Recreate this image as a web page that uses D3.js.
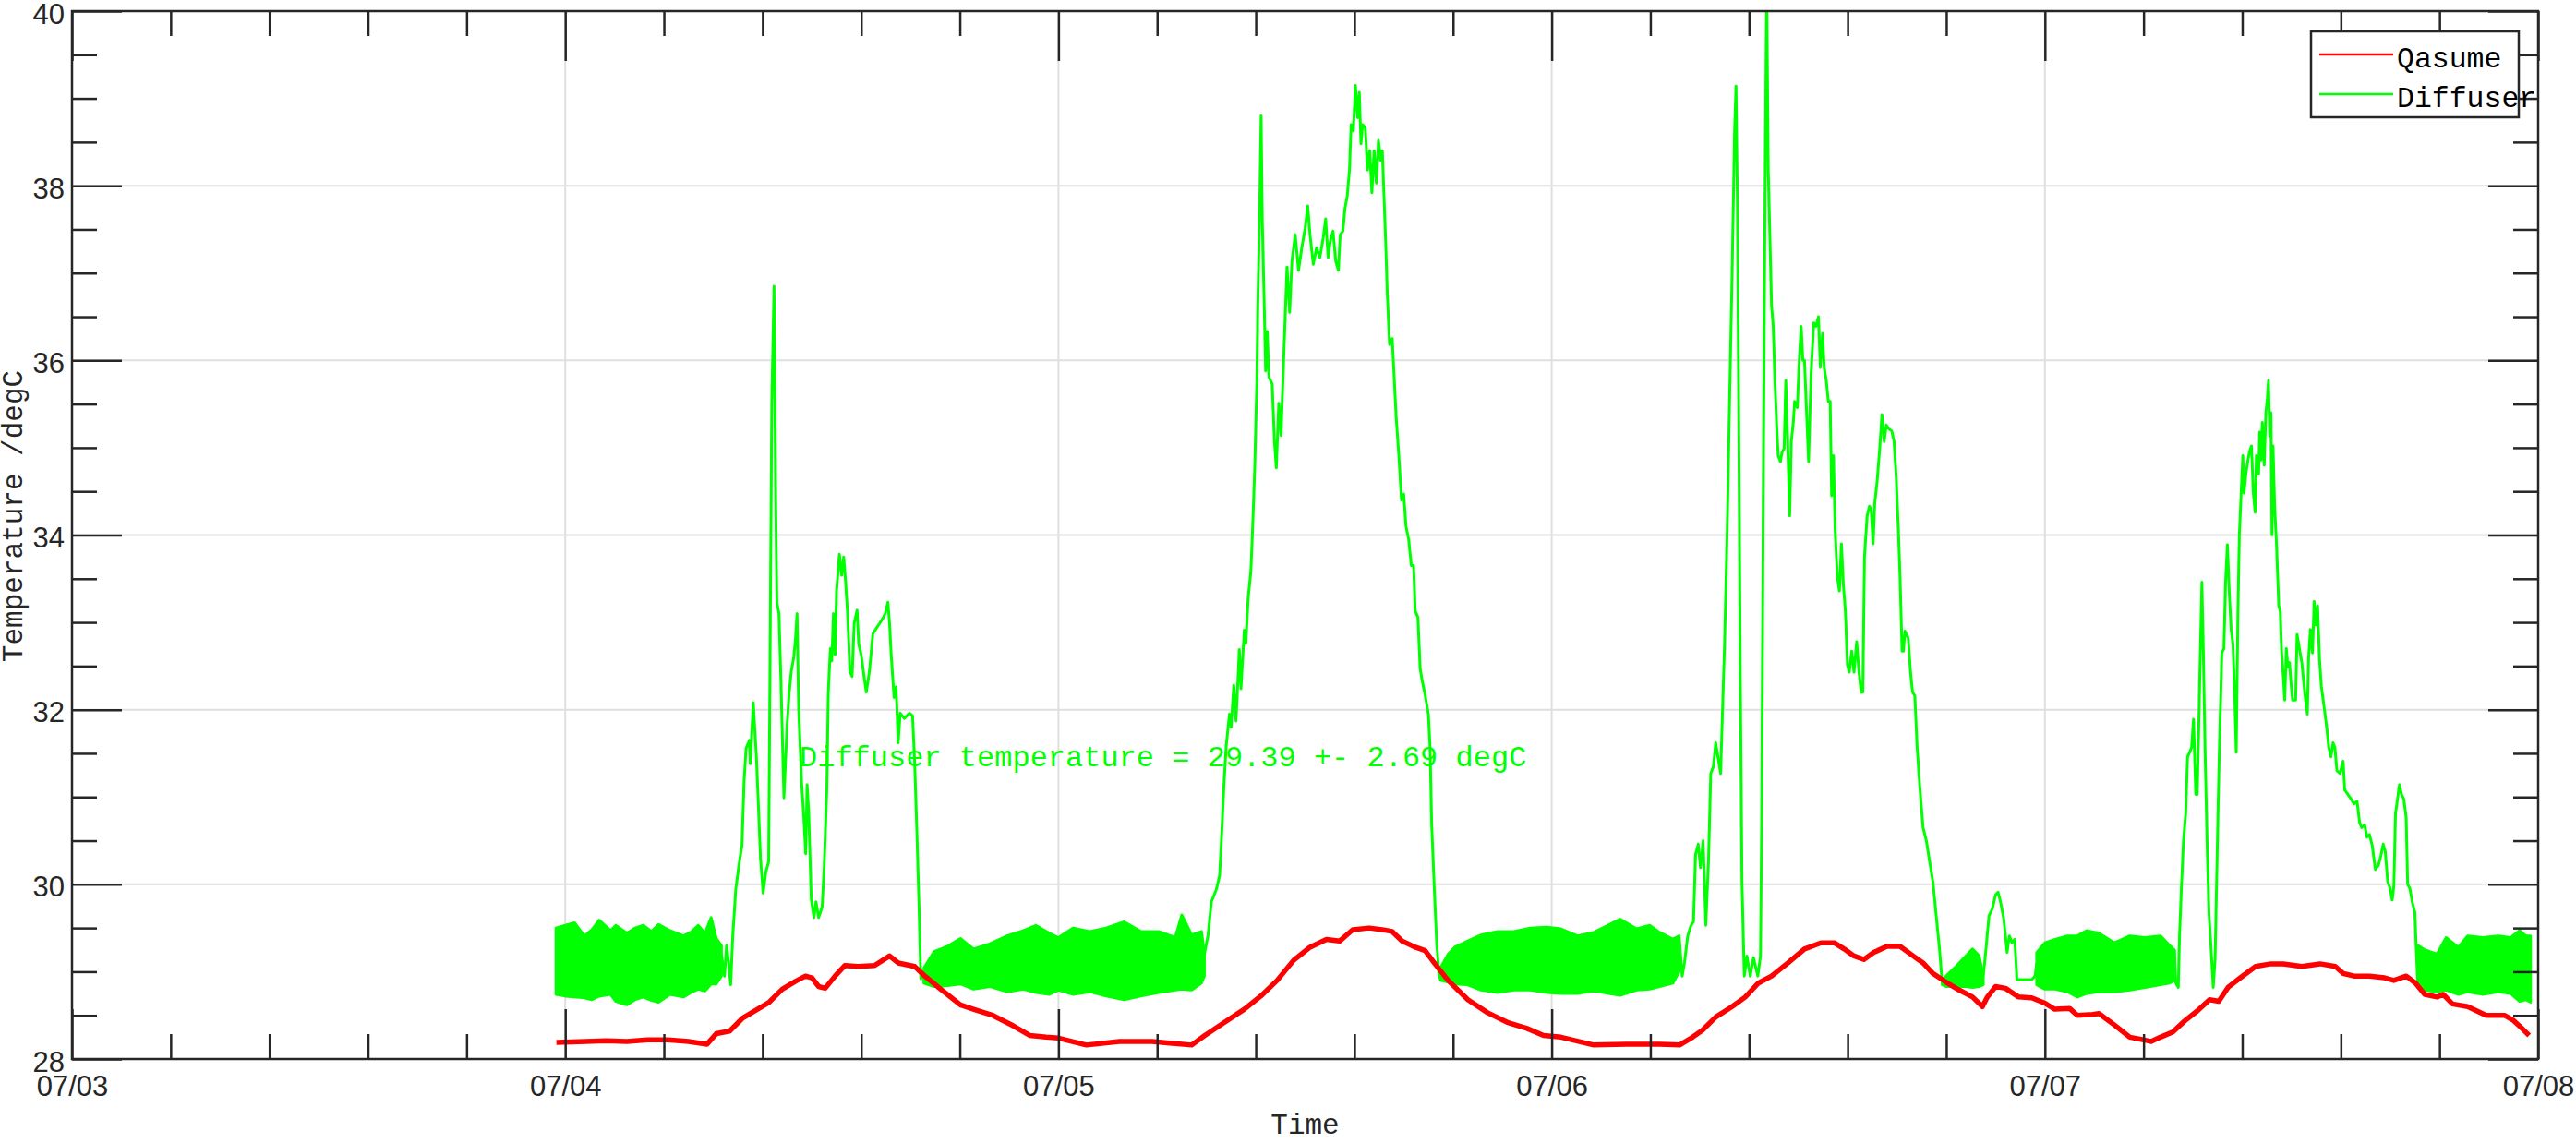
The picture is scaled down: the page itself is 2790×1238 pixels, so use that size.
<!DOCTYPE html>
<html><head><meta charset="utf-8">
<script src="https://cdn.jsdelivr.net/npm/d3@7"></script>
<style>body{margin:0;background:#fff}svg{display:block}</style>
</head><body>
<svg id="chart" width="2790" height="1238"></svg>
<script>
// ---------- DATA (hours since 07/04 00:00, temperatures in degC) ----------
const dateTicks = ["07/03","07/04","07/05","07/06","07/07","07/08"];
const tempTicks = [28,30,32,34,36,38,40];

const qasumeHours = [-0.43,1,2,3,4,5,6,6.9,7.35,8.0,8.64,9.28,9.92,10.56,11.2,11.69,12.0,12.33,12.65,13.13,13.6,14.25,15.05,15.78,16.2,17.0,17.5,18.27,19.23,20.0,20.8,21.8,22.6,23.4,
 24,25.36,26.96,28.56,30.48,31.12,32.08,33.04,33.84,34.64,35.44,36.24,37.04,37.68,38.32,39.12,39.76,40.24,40.72,41.36,41.84,42.32,42.96,43.92,44.88,45.84,46.8,47.6,
 48.45,50.05,51.65,53.25,54.22,54.86,55.34,55.98,56.78,57.42,58.06,58.7,59.5,60.3,61.1,61.75,62.23,62.71,63.19,63.67,64.31,64.95,65.59,66.07,66.55,67.19,67.83,68.48,68.96,69.2,69.6,70.08,70.72,71.36,72.0,72.48,
 73.2,73.58,74.33,74.63,75.38,76.13,76.8,77.17,77.62,78.22,78.82,79.41,80.01,80.46,80.91,81.51,82.25,83.0,83.6,84.5,85.39,86.13,86.51,87.04,87.79,88.53,88.98,89.58,90.03,90.48,91.08,91.38,91.83,92.57,93.02,93.47,94.36,94.81,95.26,95.56];
const qasumeTemp = [28.19,28.2,28.21,28.2,28.22,28.22,28.2,28.17,28.29,28.32,28.47,28.56,28.65,28.8,28.89,28.95,28.93,28.83,28.81,28.95,29.07,29.06,29.07,29.18,29.1,29.06,28.95,28.8,28.62,28.56,28.5,28.38,28.27,28.25,
 28.24,28.16,28.2,28.2,28.16,28.27,28.42,28.57,28.72,28.9,29.13,29.28,29.37,29.35,29.48,29.5,29.48,29.46,29.35,29.28,29.24,29.09,28.9,28.68,28.53,28.42,28.35,28.27,
 28.25,28.16,28.17,28.17,28.16,28.25,28.33,28.48,28.6,28.71,28.87,28.95,29.1,29.26,29.33,29.33,29.26,29.18,29.14,29.22,29.29,29.29,29.18,29.1,28.98,28.88,28.79,28.71,28.6,28.71,28.83,28.81,28.71,28.7,28.64,28.57,
 28.58,28.5,28.51,28.52,28.39,28.25,28.22,28.2,28.25,28.31,28.44,28.55,28.68,28.66,28.82,28.93,29.06,29.09,29.09,29.06,29.09,29.06,28.98,28.95,28.95,28.93,28.9,28.95,28.87,28.74,28.71,28.74,28.63,28.6,28.55,28.5,28.5,28.44,28.34,28.27];

// Diffuser: daytime excursions (null separates the days)
const diffuserHours = [7.6,7.75,7.85,7.95,8.05,8.15,8.3,8.5,8.6,8.7,8.8,8.96,9.0,9.15,9.3,9.4,9.5,9.63,9.76,9.9,9.95,10.05,10.16,10.24,10.3,10.4,10.5,10.64,10.8,10.9,11.0,11.12,11.2,11.28,11.36,11.5,11.6,11.7,11.77,11.85,11.97,12.1,12.2,12.33,12.5,12.6,12.73,12.8,12.9,12.97,13.05,13.13,13.2,13.34,13.45,13.55,13.64,13.74,13.85,13.96,14.06,14.2,14.28,14.4,14.54,14.65,14.8,14.97,15.13,15.3,15.46,15.57,15.7,15.78,15.86,16.0,16.1,16.2,16.3,16.5,16.74,16.9,17.0,17.1,17.22,17.3,17.45,null,
 31.1,31.28,31.44,31.68,31.84,31.92,32.05,32.16,32.32,32.4,32.53,32.64,32.8,32.88,33.04,33.12,33.23,33.36,33.44,33.55,33.65,33.7,33.8,33.86,33.92,34.0,34.08,34.16,34.24,34.4,34.51,34.6,34.72,34.83,34.96,35.12,35.25,35.36,35.52,35.68,35.84,36.0,36.13,36.24,36.4,36.56,36.72,36.88,37.0,37.12,37.23,37.36,37.49,37.62,37.71,37.84,37.94,38.05,38.16,38.24,38.35,38.45,38.56,38.64,38.72,38.8,38.93,39.04,39.15,39.25,39.36,39.47,39.57,39.68,39.76,39.84,39.92,40.0,40.11,40.24,40.32,40.43,40.56,40.69,40.8,40.91,41.04,41.17,41.28,41.36,41.49,41.6,41.71,41.84,42.0,42.08,42.16,42.29,42.4,42.51,42.6,null,
 54.2,54.35,54.46,54.62,54.78,54.9,55.0,55.13,55.24,55.37,55.5,55.63,55.74,55.87,55.98,56.11,56.22,56.3,56.41,56.54,56.65,56.78,56.9,56.97,57.04,57.1,57.18,57.26,57.37,57.5,57.66,57.82,58.03,58.16,58.22,58.3,58.38,58.46,58.54,58.7,58.78,58.86,58.94,59.02,59.13,59.21,59.31,59.39,59.47,59.58,59.66,59.76,59.82,59.95,60.06,60.14,60.22,60.3,60.38,60.5,60.62,60.75,60.86,60.98,61.07,61.18,61.26,61.36,61.46,61.55,61.62,61.71,61.79,61.9,62.0,62.1,62.19,62.29,62.39,62.48,62.6,62.71,62.84,62.95,63.06,63.14,63.22,63.35,63.46,63.54,63.64,63.72,63.83,63.96,64.07,64.18,64.28,64.39,64.55,64.66,64.76,64.87,64.95,65.05,65.11,65.19,65.35,65.46,65.56,65.67,65.78,65.91,66.07,66.23,66.39,66.55,66.71,66.87,67.0,null,
 69.0,69.1,69.28,69.44,69.6,69.72,69.84,70.0,70.16,70.27,70.4,70.53,70.64,70.88,71.36,71.52,71.6,null,
 78.3,78.37,78.49,78.55,78.64,78.74,78.85,78.94,79.04,79.14,79.23,79.34,79.41,79.49,79.56,79.64,79.71,79.79,79.89,79.98,80.09,80.19,80.28,80.39,80.49,80.61,80.71,80.79,80.88,80.97,81.06,81.15,81.24,81.31,81.39,81.46,81.54,81.63,81.69,81.78,81.88,81.96,82.05,82.14,82.23,82.29,82.4,82.45,82.52,82.58,82.67,82.75,82.82,82.88,82.94,83.0,83.05,83.1,83.18,83.27,83.38,83.45,83.52,83.6,83.67,83.75,83.82,83.9,83.97,84.05,84.2,84.27,84.35,84.42,84.5,84.59,84.68,84.77,84.83,84.92,85.02,85.1,85.18,85.27,85.36,85.45,85.54,85.63,85.72,85.81,85.92,86.02,86.11,86.21,86.36,86.51,86.59,86.74,86.89,87.04,87.19,87.31,87.41,87.56,87.67,87.79,87.93,88.08,88.23,88.35,88.46,88.56,88.68,88.8,88.9,88.98,89.06,89.16,89.25,89.35,89.46,89.58,89.65,89.76,89.88,90.0,90.07,90.15];
const diffuserTemp = [29.2,28.95,29.3,29.1,28.85,29.4,29.95,30.3,30.44,31.17,31.56,31.65,31.38,32.08,31.47,30.9,30.3,29.9,30.14,30.26,32.0,35.5,36.85,34.45,33.23,33.1,32.3,30.99,31.84,32.2,32.44,32.6,32.8,33.1,32.0,31.17,30.8,30.35,31.14,30.8,29.83,29.62,29.8,29.62,29.74,30.2,31.1,32.2,32.7,32.56,33.1,32.63,33.35,33.78,33.54,33.75,33.47,33.1,32.44,32.38,32.99,33.14,32.75,32.63,32.38,32.2,32.44,32.87,32.93,32.99,33.05,33.1,33.23,32.99,32.63,32.14,32.26,31.62,31.96,31.9,31.96,31.93,31.41,30.68,29.71,28.92,28.95,null,
 29.2,29.42,29.8,29.94,30.1,30.46,31.13,31.58,31.95,31.8,32.28,31.87,32.69,32.24,32.91,32.76,33.28,33.58,34.03,34.77,35.73,36.62,37.88,38.8,37.59,36.77,35.88,36.33,35.81,35.73,35.07,34.77,35.51,35.14,36.03,37.07,36.55,37.14,37.44,37.03,37.29,37.51,37.77,37.44,37.1,37.29,37.18,37.4,37.62,37.18,37.37,37.48,37.14,37.03,37.44,37.48,37.74,37.88,38.18,38.7,38.63,39.15,38.78,39.07,38.48,38.7,38.66,38.18,38.4,37.92,38.4,38.03,38.52,38.29,38.4,37.88,37.37,36.77,36.18,36.25,35.88,35.36,34.92,34.4,34.47,34.1,33.95,33.65,33.65,33.13,33.06,32.47,32.32,32.17,31.95,31.58,30.69,29.94,29.35,28.98,28.9,null,
 29.41,28.95,29.1,29.41,29.53,29.57,30.34,30.46,30.19,30.5,29.53,30.26,31.27,31.35,31.62,31.43,31.27,31.89,32.74,34.06,35.46,37.0,38.64,39.14,37.78,35.46,32.36,30.03,28.95,29.18,28.95,29.16,28.95,29.18,30.81,34.68,37.78,40.3,38.17,36.62,36.39,35.77,35.3,34.91,34.84,34.95,34.99,35.77,35.15,34.22,35.07,35.3,35.53,35.46,36.08,36.39,36.0,36.0,35.53,34.84,35.84,36.43,36.39,36.5,35.92,36.31,35.92,35.77,35.53,35.53,34.45,34.91,34.06,33.52,33.36,33.9,33.44,33.13,32.51,32.43,32.67,32.43,32.78,32.43,32.2,32.2,33.75,34.22,34.33,34.3,33.9,34.37,34.6,34.99,35.38,35.07,35.26,35.22,35.19,35.07,34.68,34.06,33.52,32.67,32.67,32.9,32.82,32.43,32.2,32.16,31.58,31.12,30.65,30.5,30.26,30.03,29.64,29.26,28.87,null,
 28.95,29.18,29.64,29.72,29.88,29.91,29.8,29.6,29.22,29.41,29.33,29.37,28.91,28.91,28.91,28.95,29.1,null,
 29.25,28.87,28.82,29.41,29.95,30.49,30.81,31.46,31.51,31.57,31.89,31.03,31.03,31.84,32.65,33.46,32.65,31.57,30.49,29.68,29.25,28.82,29.14,30.44,31.57,32.65,32.7,33.46,33.89,33.35,32.92,32.75,32.11,31.51,33.08,34.0,34.43,34.91,34.48,34.7,34.86,34.96,35.02,34.48,34.26,34.91,34.7,35.18,34.86,35.29,34.8,35.4,35.56,35.77,35.13,35.4,34.0,35.02,34.32,33.89,33.19,33.13,32.65,32.38,32.11,32.7,32.49,32.54,32.32,32.11,32.11,32.86,32.75,32.65,32.54,32.32,32.11,31.95,32.59,32.92,32.65,33.24,32.97,33.19,32.59,32.27,32.11,31.95,31.78,31.57,31.46,31.62,31.57,31.3,31.27,31.41,31.08,31.03,30.98,30.92,30.95,30.71,30.65,30.68,30.54,30.57,30.44,30.17,30.22,30.33,30.46,30.38,30.03,29.95,29.82,29.98,30.81,30.98,31.14,31.03,30.98,30.76,30.0,29.95,29.79,29.68,29.25,28.82];

// Diffuser: night-time oscillation envelope (upper / lower edge), null separates nights
const bandHours = [-0.45,0,0.45,0.93,1.3,1.65,2.2,2.46,3.0,3.4,3.8,4.2,4.54,5.1,5.75,6.1,6.47,6.8,7.1,7.35,7.6,null,
 17.45,17.95,18.6,19.23,19.87,20.67,21.5,22.3,22.9,23.56,24.0,24.72,25.52,26.32,27.2,28.0,28.88,29.68,30.0,30.48,30.96,31.1,null,
 42.6,42.96,43.28,43.9,44.56,45.36,46.16,46.96,47.76,48.45,49.25,50.05,51.33,52.13,52.77,53.25,53.9,54.2,null,
 67.0,67.19,67.67,68.16,68.48,68.8,69.0,null,
 71.6,72.0,72.5,73.1,73.58,74.03,74.63,75.38,76.13,76.87,77.62,78.07,78.3,null,
 90.15,90.48,91.07,91.52,92.12,92.57,93.31,94.06,94.66,95.1,95.4,95.63];
const bandHigh = [29.5,29.53,29.56,29.41,29.48,29.59,29.47,29.53,29.44,29.5,29.53,29.46,29.54,29.47,29.41,29.45,29.53,29.44,29.62,29.38,29.3,null,
 29.04,29.23,29.29,29.38,29.26,29.32,29.41,29.47,29.53,29.44,29.39,29.5,29.46,29.5,29.57,29.46,29.46,29.39,29.65,29.42,29.46,29.2,null,
 29.05,29.2,29.28,29.35,29.42,29.46,29.46,29.5,29.51,29.49,29.41,29.45,29.6,29.49,29.53,29.45,29.37,29.41,null,
 28.87,28.95,29.06,29.18,29.26,29.18,28.95,null,
 29.22,29.33,29.37,29.41,29.41,29.47,29.44,29.33,29.41,29.39,29.41,29.3,29.25,null,
 29.3,29.25,29.2,29.39,29.28,29.41,29.39,29.41,29.39,29.47,29.41,29.41];
const bandLow = [28.74,28.72,28.71,28.7,28.68,28.72,28.74,28.66,28.62,28.68,28.71,28.67,28.65,28.74,28.71,28.76,28.8,28.78,28.86,28.86,28.95,null,
 28.87,28.83,28.84,28.86,28.8,28.83,28.77,28.8,28.76,28.74,28.79,28.74,28.77,28.72,28.68,28.72,28.76,28.79,28.8,28.79,28.87,28.95,null,
 28.9,28.88,28.86,28.85,28.79,28.76,28.79,28.79,28.76,28.75,28.75,28.78,28.73,28.79,28.8,28.83,28.87,29.0,null,
 28.85,28.83,28.83,28.83,28.82,28.83,28.85,null,
 28.85,28.8,28.8,28.77,28.71,28.75,28.77,28.77,28.79,28.82,28.85,28.87,28.9,null,
 28.82,28.79,28.77,28.79,28.74,28.77,28.74,28.77,28.75,28.66,28.68,28.65];

const seriesNames = ["Qasume","Diffuser"];
const seriesColors = ["#ff0000","#00ff00"];
const annotation = "Diffuser temperature = 29.39 +- 2.69 degC";

// ---------- CHART ----------
const svg = d3.select("#chart");
const L = 78, R = 2749, T = 12, B = 1147;
const t0 = Date.UTC(2023, 6, 4);
const toDate = h => new Date(t0 + h * 3600e3);
const x = d3.scaleUtc().domain([new Date(Date.UTC(2023,6,3)), new Date(Date.UTC(2023,6,8))]).range([L, R]);
const y = d3.scaleLinear().domain([28, 40]).range([B, T]);
const axisColor = "#262626";

const majorX = dateTicks.map((d, i) => new Date(Date.UTC(2023, 6, 3 + i)));
const minorX = d3.range(0, 26).map(i => new Date(Date.UTC(2023,6,3) + i * 4.8 * 3600e3)).filter((d, i) => i % 5 !== 0);
const minorY = d3.range(28, 40.01, 0.5).filter(v => v % 2 !== 0);

// grid
const grid = svg.append("g").attr("stroke", "#dfdfdf").attr("stroke-width", 2);
grid.selectAll("line.gx").data(majorX).join("line").attr("x1", d => x(d)).attr("x2", d => x(d)).attr("y1", T).attr("y2", B);
grid.selectAll("line.gy").data(tempTicks).join("line").attr("x1", L).attr("x2", R).attr("y1", d => y(d)).attr("y2", d => y(d));

svg.append("clipPath").attr("id", "clip").append("rect").attr("x", L).attr("y", T).attr("width", R - L).attr("height", B - T);
const plot = svg.append("g").attr("clip-path", "url(#clip)");

const band = bandHours.map((h, i) => ({h, hi: bandHigh[i], lo: bandLow[i]}));
const area = d3.area().defined(d => d.h !== null).x(d => x(toDate(d.h))).y0(d => y(d.lo)).y1(d => y(d.hi));
plot.append("path").datum(band).attr("d", area).attr("fill", seriesColors[1]).attr("stroke", seriesColors[1]).attr("stroke-width", 3).attr("stroke-linejoin", "round");

const diff = diffuserHours.map((h, i) => ({h, v: diffuserTemp[i]}));
const line = d3.line().defined(d => d.h !== null && d.v !== null).x(d => x(toDate(d.h))).y(d => y(d.v));
plot.append("path").datum(diff).attr("d", line).attr("fill", "none").attr("stroke", seriesColors[1]).attr("stroke-width", 3).attr("stroke-linejoin", "round");

const qas = qasumeHours.map((h, i) => ({h, v: qasumeTemp[i]}));
plot.append("path").datum(qas).attr("d", line).attr("fill", "none").attr("stroke", seriesColors[0]).attr("stroke-width", 5.5).attr("stroke-linejoin", "round");

// annotation
svg.append("text").attr("x", 866).attr("y", 830).attr("fill", "#00ff00")
  .style("font-family", "'Liberation Mono', monospace").style("font-size", "32px").text(annotation);

// axes
const fontSans = "'Liberation Sans', Arial, sans-serif";
function styleAxis(g) {
  g.select(".domain").remove();
  g.selectAll(".tick line").attr("stroke", axisColor).attr("stroke-width", 2.5);
  g.selectAll("text").attr("fill", axisColor).style("font-family", fontSans).style("font-size", "31px");
}
const fmt = (d) => dateTicks[majorX.findIndex(m => +m === +d)];
svg.append("g").attr("transform", `translate(0,${B})`)
  .call(d3.axisBottom(x).tickValues(majorX).tickFormat(fmt).tickSize(-54).tickPadding(18)).call(styleAxis);
svg.append("g").attr("transform", `translate(0,${B})`)
  .call(d3.axisBottom(x).tickValues(minorX).tickFormat("").tickSize(-27)).call(styleAxis);
svg.append("g").attr("transform", `translate(0,${T})`)
  .call(d3.axisTop(x).tickValues(majorX).tickFormat("").tickSize(-54)).call(styleAxis);
svg.append("g").attr("transform", `translate(0,${T})`)
  .call(d3.axisTop(x).tickValues(minorX).tickFormat("").tickSize(-27)).call(styleAxis);
const ly = svg.append("g").attr("transform", `translate(${L},0)`)
  .call(d3.axisLeft(y).tickValues(tempTicks).tickFormat(d3.format("d")).tickSize(-54).tickPadding(8)).call(styleAxis);
ly.selectAll("text").attr("dy", "0.42em");
svg.append("g").attr("transform", `translate(${L},0)`)
  .call(d3.axisLeft(y).tickValues(minorY).tickFormat("").tickSize(-27)).call(styleAxis);
svg.append("g").attr("transform", `translate(${R},0)`)
  .call(d3.axisRight(y).tickValues(tempTicks).tickFormat("").tickSize(-54)).call(styleAxis);
svg.append("g").attr("transform", `translate(${R},0)`)
  .call(d3.axisRight(y).tickValues(minorY).tickFormat("").tickSize(-27)).call(styleAxis);

svg.append("rect").attr("x", L).attr("y", T).attr("width", R - L).attr("height", B - T)
  .attr("fill", "none").attr("stroke", axisColor).attr("stroke-width", 2.5);

// axis titles
const fontMono = "'Liberation Mono', 'Courier New', monospace";
svg.append("text").attr("x", (L + R) / 2).attr("y", 1228).attr("text-anchor", "middle")
  .attr("fill", axisColor).style("font-family", fontMono).style("font-size", "31px").text("Time");
svg.append("text").attr("transform", `translate(24,${559}) rotate(-90)`).attr("text-anchor", "middle")
  .attr("fill", axisColor).style("font-family", fontMono).style("font-size", "31px").text("Temperature /degC");

// legend
const leg = svg.append("g");
leg.append("rect").attr("x", 2503).attr("y", 34).attr("width", 225).attr("height", 93)
  .attr("fill", "#fff").attr("stroke", axisColor).attr("stroke-width", 2.5);
seriesNames.forEach((name, i) => {
  const yy = 59 + i * 43;
  leg.append("line").attr("x1", 2512).attr("x2", 2592).attr("y1", yy).attr("y2", yy)
    .attr("stroke", seriesColors[i]).attr("stroke-width", 2.5);
  leg.append("text").attr("x", 2596).attr("y", yy + 13.5).attr("fill", "#000")
    .style("font-family", fontMono).style("font-size", "31.5px").text(name);
});
</script>
</body></html>
